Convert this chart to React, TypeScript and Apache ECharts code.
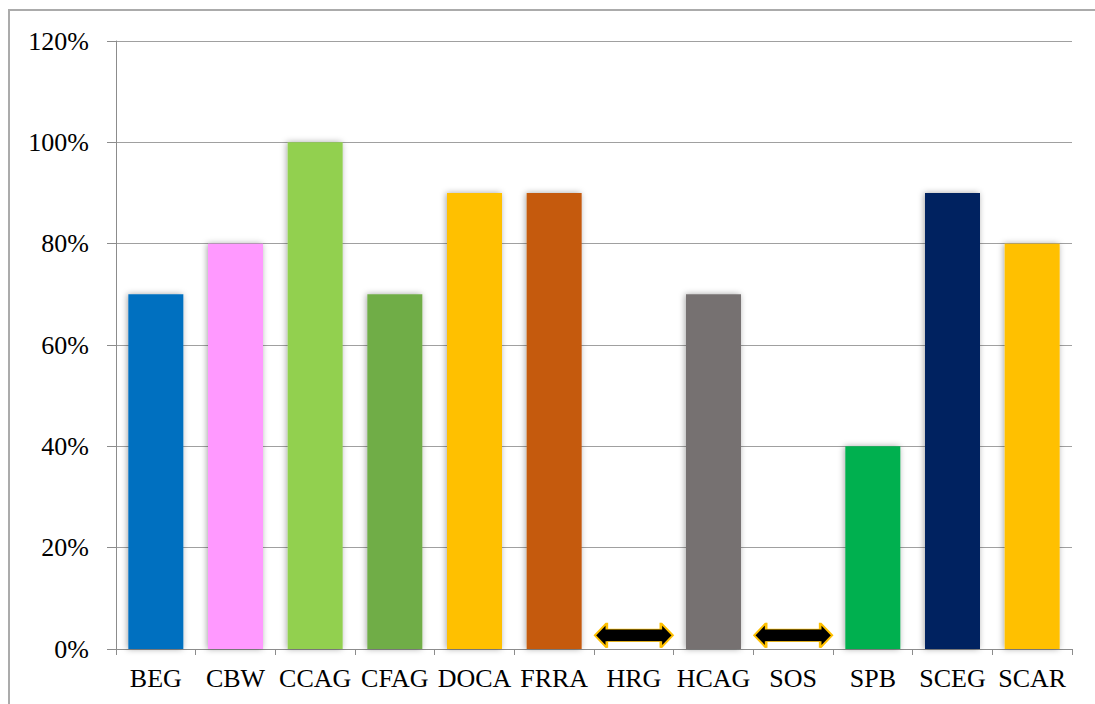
import React, { useEffect, useRef } from "react";
import * as echarts from "echarts";

const categories = ["BEG", "CBW", "CCAG", "CFAG", "DOCA", "FRRA", "HRG", "HCAG", "SOS", "SPB", "SCEG", "SCAR"];
const values: (number | null)[] = [0.7, 0.8, 1.0, 0.7, 0.9, 0.9, null, 0.7, null, 0.4, 0.9, 0.8];
const barColors = ["#0070C0", "#FF99FF", "#92D050", "#70AD47", "#FFC000", "#C55A11", "#FFFFFF", "#767171", "#FFFFFF", "#00B050", "#002060", "#FFC000"];
const arrowCategories = ["HRG", "SOS"];
const arrowLevel = 0.027;
const yTicks = [0, 0.2, 0.4, 0.6, 0.8, 1.0, 1.2];

const arrowPath = "path://M0 12 L12 0 L12 6 L66 6 L66 0 L78 12 L66 24 L66 18 L12 18 L12 24 Z";

export default function App() {
  const ref = useRef<HTMLDivElement>(null);
  useEffect(() => {
    if (!ref.current) return;
    const chart = echarts.init(ref.current, null, { renderer: "svg" });
    const font = '"Liberation Serif", "Times New Roman", serif';
    chart.setOption({
      animation: false,
      backgroundColor: "#FFFFFF",
      grid: { left: 116, right: 23, top: 41, bottom: 55, containLabel: false },
      graphic: [
        {
          type: "rect",
          shape: { x: 9, y: 10, width: 1200, height: 800 },
          style: { fill: "none", stroke: "#ABABAB", lineWidth: 2 },
          silent: true,
        },
      ],
      xAxis: {
        type: "category",
        data: categories,
        axisLine: { show: true, lineStyle: { color: "#8C8C8C", width: 1 } },
        axisTick: { show: true, alignWithLabel: false, length: 6, lineStyle: { color: "#8C8C8C" } },
        axisLabel: { color: "#000", fontFamily: font, fontSize: 26, margin: 16, interval: 0 },
      },
      yAxis: {
        type: "value",
        min: 0,
        max: yTicks[yTicks.length - 1],
        interval: 0.2,
        axisLine: { show: true, lineStyle: { color: "#8C8C8C", width: 1 } },
        axisTick: { show: true, length: 9, lineStyle: { color: "#8C8C8C" } },
        splitLine: { show: true, lineStyle: { color: "#A0A0A0", width: 1 } },
        axisLabel: {
          color: "#000",
          fontFamily: font,
          fontSize: 26,
          margin: 27,
          formatter: (v: number) => Math.round(v * 100) + "%",
        },
      },
      series: [
        {
          type: "bar",
          data: values.map((v, i) => ({
            value: v,
            itemStyle: {
              color: barColors[i],
              shadowBlur: 6,
              shadowColor: "rgba(0,0,0,0.35)",
              shadowOffsetX: -1,
              shadowOffsetY: 0,
            },
          })),
          barWidth: 55,
        },
        {
          type: "scatter",
          data: arrowCategories.map((c) => [c, arrowLevel]),
          symbol: arrowPath,
          symbolSize: [78, 25],
          itemStyle: { color: "#000000", borderColor: "#FFC000", borderWidth: 1.5, opacity: 1 },
          z: 5,
        },
      ],
    });
    return () => chart.dispose();
  }, []);
  return (
    <div
      ref={ref}
      style={{ position: "absolute", left: 0, top: 0, width: 1095, height: 704 }}
    />
  );
}
